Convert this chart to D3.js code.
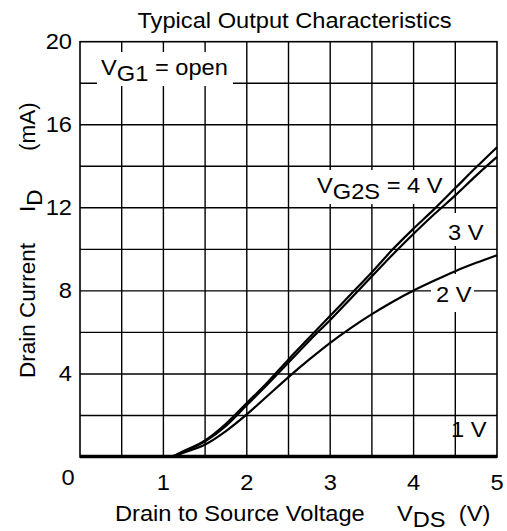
<!DOCTYPE html>
<meta charset="utf-8">
<style>
  body { margin: 0; background: #fff; }
  svg { display: block; font-family: 'Liberation Sans', Arial, sans-serif; }
  .grid line { stroke: #000; stroke-width: 1.4px; }
  .curve { fill: none; stroke: #000; stroke-width: 2.2px; }
</style>
<script src="https://d3js.org/d3.v7.min.js"></script>
<div id="chart"></div>
<script>
  // drain-source voltage (V) and drain current (mA) per gate-2 voltage
  const vds = [0, 0.5, 1.0, 1.1, 1.25, 1.5, 1.75, 2.0, 2.25, 2.5, 2.75, 3.0, 3.25, 3.5, 3.75, 4.0, 4.25, 4.5, 4.75, 5.0];
  const id4V = [0, 0, 0, 0.03, 0.3, 0.8, 1.6, 2.6, 3.6, 4.7, 5.75, 6.8, 7.85, 8.9, 10.0, 11.0, 11.95, 12.95, 13.95, 14.92];
  const id3V = [0, 0, 0, 0.02, 0.27, 0.75, 1.5, 2.5, 3.5, 4.55, 5.6, 6.6, 7.65, 8.7, 9.75, 10.75, 11.7, 12.6, 13.55, 14.45];
  const id2V = [0, 0, 0, 0.02, 0.22, 0.6, 1.25, 2.05, 2.95, 3.85, 4.7, 5.5, 6.22, 6.88, 7.48, 8.02, 8.5, 8.95, 9.35, 9.72];
  const id1V = [0.05, 0.05, 0.05, 0.05, 0.05, 0.05, 0.05, 0.05, 0.05, 0.05, 0.05, 0.05, 0.05, 0.05, 0.05, 0.05, 0.05, 0.05, 0.05, 0.05];
  const xTicks = [1, 2, 3, 4, 5];
  const yTicks = [4, 8, 12, 16, 20];

  const W = 507, H = 531;
  const margin = {top: 41.7, right: 10, bottom: 74, left: 80};
  const sx = 1.1;   // horizontal text in the original is drawn a little wide
  const fs = 21.5;

  const svg = d3.select("#chart").append("svg").attr("width", W).attr("height", H);

  const x = d3.scaleLinear().domain([0, 5]).range([margin.left, W - margin.right]);
  const y = d3.scaleLinear().domain([0, 20]).range([H - margin.bottom, margin.top]);

  // grid every 0.5 V and 2 mA
  const grid = svg.append("g").attr("class", "grid");
  grid.selectAll(".v").data(d3.range(0.5, 5, 0.5)).join("line")
    .attr("x1", d => x(d)).attr("x2", d => x(d)).attr("y1", y(0)).attr("y2", y(20));
  grid.selectAll(".h").data(d3.range(2, 20, 2)).join("line")
    .attr("x1", x(0)).attr("x2", x(5)).attr("y1", d => y(d)).attr("y2", d => y(d));
  svg.append("rect").attr("x", x(0)).attr("y", y(20)).attr("width", x(5) - x(0)).attr("height", y(0) - y(20))
    .attr("fill", "none").attr("stroke", "#000").attr("stroke-width", 1.6);
  svg.append("line").attr("x1", x(0)).attr("x2", x(5)).attr("y1", y(0)).attr("y2", y(0))
    .attr("stroke", "#000").attr("stroke-width", 2.5);

  function box(x0, y0, x1, y1) {
    svg.append("rect").attr("x", x0).attr("y", y0).attr("width", x1 - x0).attr("height", y1 - y0).attr("fill", "#fff");
  }
  // white patches behind the curve labels (grid only)
  box(97, 52, 233, 86);
  box(315, 170, 438, 204);
  box(445, 213, 490, 246);
  box(431, 274, 474, 312);
  box(457, 420, 490, 441);

  const line = d3.line().curve(d3.curveMonotoneX).x((d, i) => x(vds[i])).y(d => y(d));
  [id1V, id2V, id3V, id4V].forEach(s => {
    svg.append("path").attr("class", "curve").datum(s).attr("d", line);
  });

  function txt(px, py, parts, size, anchor, rot) {
    const t = svg.append("text")
      .attr("transform", `translate(${px},${py})` + (rot ? " rotate(-90)" : ` scale(${sx},1)`))
      .attr("text-anchor", anchor || "start")
      .style("font-size", size + "px");
    parts.forEach(p => {
      t.append("tspan").attr("dy", p.dy || 0).attr("xml:space", "preserve").text(p.s);
    });
    return t;
  }

  // curve labels
  txt(101, 75, [{s: "V"}, {s: "G1", dy: 6}, {s: " = open", dy: -6}], fs);
  txt(317, 193, [{s: "V"}, {s: "G2S", dy: 6}, {s: " = 4 V", dy: -6}], fs);
  txt(448, 240, [{s: "3 V"}], fs);
  txt(436, 302, [{s: "2 V"}], fs);
  txt(451, 437, [{s: "1 V"}], fs);

  // tick labels
  yTicks.forEach(d => txt(72, y(d) + 7.5, [{s: String(d)}], fs, "end"));
  txt(68, 485, [{s: "0"}], fs, "middle");
  xTicks.forEach(d => txt(x(d), 490, [{s: String(d)}], fs, "middle"));

  // titles
  txt(294.5, 28, [{s: "Typical Output Characteristics"}], fs, "middle");
  txt(115, 521, [{s: "Drain to Source Voltage"}], fs);
  txt(397, 521, [{s: "V"}, {s: "DS", dy: 6}, {s: "  (V)", dy: -6}], fs);
  txt(35, 378, [{s: "Drain Current"}], 22.5, "start", true);
  txt(35, 212, [{s: "I"}, {s: "D", dy: 7}], 22.5, "start", true);
  txt(35, 151, [{s: "(mA)"}], 22.5, "start", true);
</script>
